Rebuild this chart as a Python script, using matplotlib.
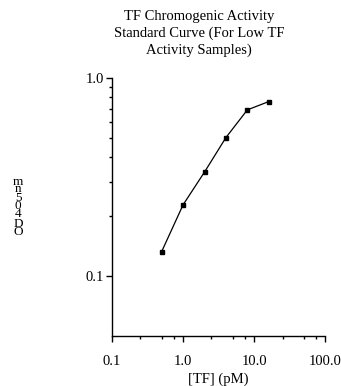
import numpy as np
import matplotlib.pyplot as plt
from matplotlib.ticker import FixedLocator, FixedFormatter

plt.rcParams['font.family'] = ['Liberation Serif', 'DejaVu Serif']

# 标准曲线数据
tf_conc = [0.5, 1.0, 2.0, 4.0, 8.0, 16.0]          # [TF] (pM)
od405 = [0.133, 0.229, 0.335, 0.50, 0.69, 0.76]     # OD405nm

x_ticks = [0.1, 1.0, 10.0, 100.0]
x_ticklabels = ['0.1', '1.0', '10.0', '100.0']
y_ticks = [0.1, 1.0]
y_ticklabels = ['0.1', '1.0']

title = 'TF Chromogenic Activity\nStandard Curve (For Low TF\nActivity Samples)'

# y 標籤逐字直排 (由上而下)
ylab_chars = ['m', 'n', '5', '0', '4', 'D', 'O']
ylab_ypix = [182, 189, 198, 206, 214, 224, 232]

fs = 10.5

fig = plt.figure(figsize=(3.41, 3.86), dpi=100)
ax = fig.add_axes([0.3284, 0.1303, 0.6256, 0.6677])

ax.plot(tf_conc, od405, color='black', lw=0.9, marker='s', ms=3.2,
        mfc='black', mec='black')

ax.set_xscale('log')
ax.set_yscale('log')
ax.set_xlim(0.1, 100)
ax.set_ylim(0.05, 1.0)

# 主刻度
ax.xaxis.set_major_locator(FixedLocator(x_ticks))
ax.xaxis.set_major_formatter(FixedFormatter(x_ticklabels))
ax.yaxis.set_major_locator(FixedLocator(y_ticks))
ax.yaxis.set_major_formatter(FixedFormatter(y_ticklabels))

# 次刻度: x 為 2.5/5/7.5，y 為 0.2~0.9
x_minor = [d * m for d in [0.1, 1, 10] for m in [2.5, 5, 7.5]]
y_minor = [0.1 * m for m in range(2, 10)]
ax.xaxis.set_minor_locator(FixedLocator(x_minor))
ax.yaxis.set_minor_locator(FixedLocator(y_minor))
ax.xaxis.set_minor_formatter(FixedFormatter([]))
ax.yaxis.set_minor_formatter(FixedFormatter([]))

ax.tick_params(which='major', direction='out', length=4, width=1.0,
               labelsize=fs, colors='black')
ax.tick_params(which='minor', direction='out', length=2.5, width=1.0)
ax.tick_params(axis='x', which='major', pad=10)
ax.tick_params(axis='y', which='major', pad=2)

for s in ['top', 'right']:
    ax.spines[s].set_visible(False)
for s in ['left', 'bottom']:
    ax.spines[s].set_linewidth(1.0)

ax.set_xlabel('[TF] (pM)', fontsize=fs, labelpad=3)

for ch, yp in zip(ylab_chars, ylab_ypix):
    fig.text(18 / 341, 1 - yp / 386, ch, fontsize=9.5, ha='center',
             va='center')

fig.text(199 / 341, 1 - 33.5 / 386, title, fontsize=fs, ha='center',
         va='center', linespacing=1.3)

fig.savefig('out.png', dpi=100)
